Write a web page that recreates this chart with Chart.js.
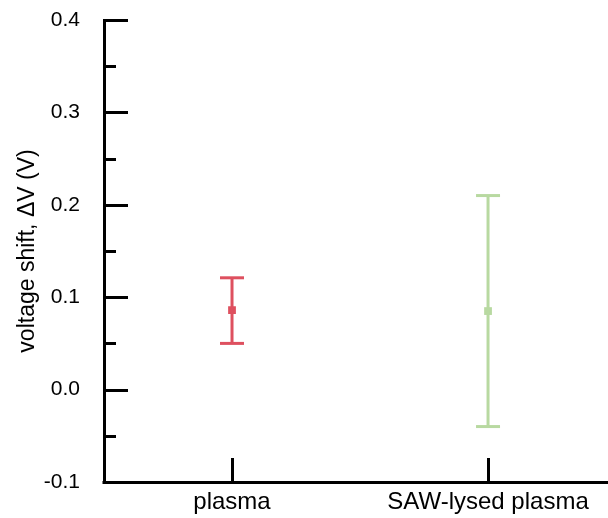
<!DOCTYPE html>
<html>
<head>
<meta charset="utf-8">
<script src="https://cdn.jsdelivr.net/npm/chart.js@4"></script>
<style>
  html, body { margin: 0; padding: 0; background: #fff; overflow: hidden; }
  #wrap { width: 608px; height: 518px; position: relative; }
  canvas { display: block; }
</style>
</head>
<body>
<div id="wrap"><canvas id="chart"></canvas></div>
<script>
const categories = ['plasma', 'SAW-lysed plasma'];
const positions = [1, 2];
const means = [0.086, 0.085];
const lower = [0.050, -0.040];
const upper = [0.121, 0.210];
const colors = ['rgb(222, 80, 95)', 'rgb(184, 217, 161)'];
const yMajor = [-0.1, 0, 0.1, 0.2, 0.3, 0.4];
const yMinor = [-0.05, 0.05, 0.15, 0.25, 0.35];

const datasets = [];
categories.forEach((cat, i) => {
  // error bar: vertical line, caps are 'line' point style
  datasets.push({
    label: cat + ' error',
    data: [{ x: positions[i], y: lower[i] }, { x: positions[i], y: upper[i] }],
    showLine: true,
    borderColor: colors[i],
    borderWidth: 3,
    pointStyle: 'line',
    pointRadius: 12,
    pointBorderWidth: 3,
    pointBorderColor: colors[i],
    pointHoverRadius: 12
  });
  datasets.push({
    label: cat,
    data: [{ x: positions[i], y: means[i] }],
    pointStyle: 'rect',
    pointRadius: 5.5,
    pointBorderWidth: 0,
    backgroundColor: colors[i],
    borderColor: colors[i]
  });
});

const noPad = s => {
  s.paddingLeft = s.paddingRight = s.paddingTop = s.paddingBottom = 0;
  s.getPadding = () => ({ left: 0, top: 0, right: 0, bottom: 0 });
};

// inward tick marks + x axis line running to the right edge
const innerTicks = {
  id: 'innerTicks',
  afterDraw(chart) {
    const ctx = chart.ctx;
    const x = chart.scales.x, y = chart.scales.y;
    ctx.save();
    ctx.strokeStyle = '#000';
    ctx.lineWidth = 3;
    ctx.beginPath();
    yMajor.forEach(v => {
      const py = Math.round(y.getPixelForValue(v)) + 0.5;
      ctx.moveTo(x.left, py); ctx.lineTo(x.left + 24, py);
    });
    yMinor.forEach(v => {
      const py = Math.round(y.getPixelForValue(v)) + 0.5;
      ctx.moveTo(x.left, py); ctx.lineTo(x.left + 12, py);
    });
    positions.forEach(v => {
      const px = Math.round(x.getPixelForValue(v)) + 0.5;
      ctx.moveTo(px, y.bottom); ctx.lineTo(px, y.bottom - 24);
    });
    const by = Math.floor(x.top) + 0.5;
    ctx.moveTo(x.left - 1.5, by); ctx.lineTo(chart.width, by);
    ctx.stroke();
    ctx.restore();
  }
};

new Chart(document.getElementById('chart'), {
  type: 'scatter',
  data: { datasets },
  options: {
    responsive: true,
    maintainAspectRatio: false,
    animation: false,
    layout: { padding: { top: 20, right: 0, bottom: 0, left: 0 } },
    plugins: { legend: { display: false }, tooltip: { enabled: false } },
    scales: {
      x: {
        type: 'linear',
        min: 0.5,
        max: 2.41,
        afterBuildTicks: s => { s.ticks = positions.map(v => ({ value: v })); },
        afterFit: s => { s.height = 36; noPad(s); },
        grid: { display: true, drawOnChartArea: false, drawTicks: false },
        border: { display: true, color: '#000', width: 3 },
        ticks: {
          padding: 6,
          color: '#000',
          maxRotation: 0,
          font: { family: 'Liberation Sans, Arial', size: 24 },
          callback: v => categories[positions.indexOf(v)] || ''
        }
      },
      y: {
        min: -0.1,
        max: 0.4,
        afterBuildTicks: s => { s.ticks = yMajor.map(v => ({ value: v })); },
        afterFit: s => { s.width = 104; noPad(s); },
        grid: { display: true, drawOnChartArea: false, drawTicks: false },
        border: { display: true, color: '#000', width: 3 },
        ticks: {
          padding: 24,
          color: '#000',
          font: { family: 'Liberation Sans, Arial', size: 21 },
          callback: v => v.toFixed(1)
        },
        title: {
          display: true,
          text: 'voltage shift, \u0394V (V)',
          color: '#000',
          padding: { top: 14, bottom: 0 },
          font: { family: 'Liberation Sans, Arial', size: 23 }
        }
      }
    }
  },
  plugins: [innerTicks]
});
</script>
</body>
</html>
